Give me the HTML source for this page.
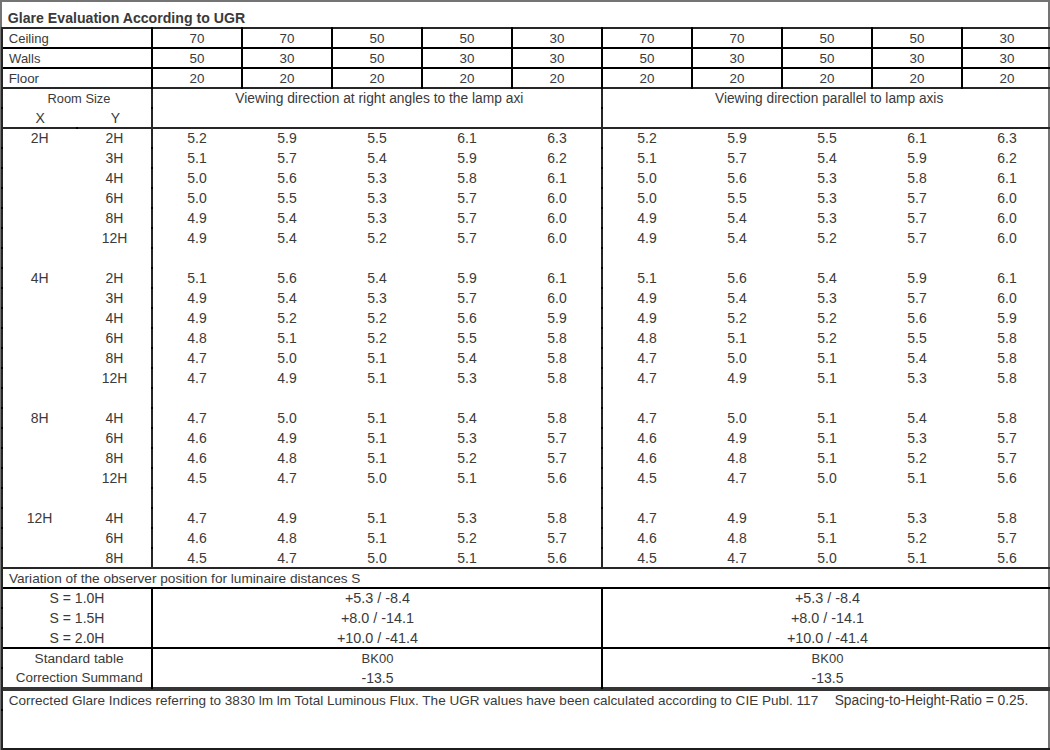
<!DOCTYPE html>
<html><head><meta charset="utf-8"><title>Glare Evaluation According to UGR</title>
<style>
html,body{margin:0;padding:0;background:#fff;}
body{width:1050px;height:750px;position:relative;overflow:hidden;font-family:"Liberation Sans",sans-serif;color:#3a3a3a;}
i{position:absolute;display:block;}
b{position:absolute;font-weight:normal;white-space:pre;line-height:20px;}
b.c{width:300px;text-align:center;}
b.t{font-weight:bold;}
</style></head><body>
<i style="left:0;top:0;width:1050px;height:2px;background:#747474"></i>
<i style="left:0;top:0;width:2px;height:750px;background:#747474"></i>
<i style="left:1048px;top:0;width:2px;height:750px;background:#747474"></i>
<i style="left:1px;top:27px;width:1049px;height:2px;background:#262626"></i>
<i style="left:1px;top:47px;width:1049px;height:2px;background:#000"></i>
<i style="left:1px;top:67px;width:1049px;height:2px;background:#000"></i>
<i style="left:1px;top:87px;width:1049px;height:2px;background:#262626"></i>
<i style="left:1px;top:127px;width:1049px;height:2px;background:#262626"></i>
<i style="left:1px;top:567px;width:1049px;height:2px;background:#262626"></i>
<i style="left:1px;top:587px;width:1049px;height:2px;background:#000"></i>
<i style="left:1px;top:647px;width:1049px;height:2px;background:#000"></i>
<i style="left:1px;top:687px;width:1049px;height:4px;background:#353535"></i>
<i style="left:1px;top:748px;width:1049px;height:2px;background:#1c1c1c"></i>
<i style="left:1px;top:27px;width:2px;height:723px;background:#262626"></i>
<i style="left:151px;top:89px;width:2px;height:479px;background:#262626"></i>
<i style="left:151px;top:27px;width:2px;height:62px;background:#000"></i>
<i style="left:151px;top:587px;width:2px;height:102px;background:#000"></i>
<i style="left:601px;top:89px;width:2px;height:479px;background:#262626"></i>
<i style="left:601px;top:27px;width:2px;height:62px;background:#000"></i>
<i style="left:601px;top:587px;width:2px;height:102px;background:#000"></i>
<i style="left:241px;top:27px;width:2px;height:62px;background:#000"></i>
<i style="left:331px;top:27px;width:2px;height:62px;background:#000"></i>
<i style="left:421px;top:27px;width:2px;height:62px;background:#000"></i>
<i style="left:511px;top:27px;width:2px;height:62px;background:#000"></i>
<i style="left:691px;top:27px;width:2px;height:62px;background:#000"></i>
<i style="left:781px;top:27px;width:2px;height:62px;background:#000"></i>
<i style="left:871px;top:27px;width:2px;height:62px;background:#000"></i>
<i style="left:961px;top:27px;width:2px;height:62px;background:#000"></i>
<i style="left:1px;top:107px;width:2px;height:2px;background:#000"></i>
<i style="left:151px;top:107px;width:2px;height:2px;background:#000"></i>
<i style="left:601px;top:107px;width:2px;height:2px;background:#000"></i>
<i style="left:1px;top:147px;width:2px;height:2px;background:#000"></i>
<i style="left:151px;top:147px;width:2px;height:2px;background:#000"></i>
<i style="left:601px;top:147px;width:2px;height:2px;background:#000"></i>
<i style="left:1px;top:167px;width:2px;height:2px;background:#000"></i>
<i style="left:151px;top:167px;width:2px;height:2px;background:#000"></i>
<i style="left:601px;top:167px;width:2px;height:2px;background:#000"></i>
<i style="left:1px;top:187px;width:2px;height:2px;background:#000"></i>
<i style="left:151px;top:187px;width:2px;height:2px;background:#000"></i>
<i style="left:601px;top:187px;width:2px;height:2px;background:#000"></i>
<i style="left:1px;top:207px;width:2px;height:2px;background:#000"></i>
<i style="left:151px;top:207px;width:2px;height:2px;background:#000"></i>
<i style="left:601px;top:207px;width:2px;height:2px;background:#000"></i>
<i style="left:1px;top:227px;width:2px;height:2px;background:#000"></i>
<i style="left:151px;top:227px;width:2px;height:2px;background:#000"></i>
<i style="left:601px;top:227px;width:2px;height:2px;background:#000"></i>
<i style="left:1px;top:247px;width:2px;height:2px;background:#000"></i>
<i style="left:151px;top:247px;width:2px;height:2px;background:#000"></i>
<i style="left:601px;top:247px;width:2px;height:2px;background:#000"></i>
<i style="left:1px;top:267px;width:2px;height:2px;background:#000"></i>
<i style="left:151px;top:267px;width:2px;height:2px;background:#000"></i>
<i style="left:601px;top:267px;width:2px;height:2px;background:#000"></i>
<i style="left:1px;top:287px;width:2px;height:2px;background:#000"></i>
<i style="left:151px;top:287px;width:2px;height:2px;background:#000"></i>
<i style="left:601px;top:287px;width:2px;height:2px;background:#000"></i>
<i style="left:1px;top:307px;width:2px;height:2px;background:#000"></i>
<i style="left:151px;top:307px;width:2px;height:2px;background:#000"></i>
<i style="left:601px;top:307px;width:2px;height:2px;background:#000"></i>
<i style="left:1px;top:327px;width:2px;height:2px;background:#000"></i>
<i style="left:151px;top:327px;width:2px;height:2px;background:#000"></i>
<i style="left:601px;top:327px;width:2px;height:2px;background:#000"></i>
<i style="left:1px;top:347px;width:2px;height:2px;background:#000"></i>
<i style="left:151px;top:347px;width:2px;height:2px;background:#000"></i>
<i style="left:601px;top:347px;width:2px;height:2px;background:#000"></i>
<i style="left:1px;top:367px;width:2px;height:2px;background:#000"></i>
<i style="left:151px;top:367px;width:2px;height:2px;background:#000"></i>
<i style="left:601px;top:367px;width:2px;height:2px;background:#000"></i>
<i style="left:1px;top:387px;width:2px;height:2px;background:#000"></i>
<i style="left:151px;top:387px;width:2px;height:2px;background:#000"></i>
<i style="left:601px;top:387px;width:2px;height:2px;background:#000"></i>
<i style="left:1px;top:407px;width:2px;height:2px;background:#000"></i>
<i style="left:151px;top:407px;width:2px;height:2px;background:#000"></i>
<i style="left:601px;top:407px;width:2px;height:2px;background:#000"></i>
<i style="left:1px;top:427px;width:2px;height:2px;background:#000"></i>
<i style="left:151px;top:427px;width:2px;height:2px;background:#000"></i>
<i style="left:601px;top:427px;width:2px;height:2px;background:#000"></i>
<i style="left:1px;top:447px;width:2px;height:2px;background:#000"></i>
<i style="left:151px;top:447px;width:2px;height:2px;background:#000"></i>
<i style="left:601px;top:447px;width:2px;height:2px;background:#000"></i>
<i style="left:1px;top:467px;width:2px;height:2px;background:#000"></i>
<i style="left:151px;top:467px;width:2px;height:2px;background:#000"></i>
<i style="left:601px;top:467px;width:2px;height:2px;background:#000"></i>
<i style="left:1px;top:487px;width:2px;height:2px;background:#000"></i>
<i style="left:151px;top:487px;width:2px;height:2px;background:#000"></i>
<i style="left:601px;top:487px;width:2px;height:2px;background:#000"></i>
<i style="left:1px;top:507px;width:2px;height:2px;background:#000"></i>
<i style="left:151px;top:507px;width:2px;height:2px;background:#000"></i>
<i style="left:601px;top:507px;width:2px;height:2px;background:#000"></i>
<i style="left:1px;top:527px;width:2px;height:2px;background:#000"></i>
<i style="left:151px;top:527px;width:2px;height:2px;background:#000"></i>
<i style="left:601px;top:527px;width:2px;height:2px;background:#000"></i>
<i style="left:1px;top:547px;width:2px;height:2px;background:#000"></i>
<i style="left:151px;top:547px;width:2px;height:2px;background:#000"></i>
<i style="left:601px;top:547px;width:2px;height:2px;background:#000"></i>
<i style="left:1px;top:607px;width:2px;height:2px;background:#000"></i>
<i style="left:1px;top:627px;width:2px;height:2px;background:#000"></i>
<i style="left:1px;top:667px;width:2px;height:2px;background:#000"></i>
<i style="left:1px;top:709px;width:2px;height:2px;background:#000"></i>
<i style="left:76px;top:127px;width:2px;height:2px;background:#000"></i>
<b class="t" style="left:7.83px;top:8px;font-size:14.14px">Glare Evaluation According to UGR</b>
<b style="left:8.75px;top:29px;font-size:13.08px">Ceiling</b>
<b class="c" style="left:47px;top:29px;font-size:13.4px">70</b>
<b class="c" style="left:137px;top:29px;font-size:13.4px">70</b>
<b class="c" style="left:227px;top:29px;font-size:13.4px">50</b>
<b class="c" style="left:317px;top:29px;font-size:13.4px">50</b>
<b class="c" style="left:407px;top:29px;font-size:13.4px">30</b>
<b class="c" style="left:497px;top:29px;font-size:13.4px">70</b>
<b class="c" style="left:587px;top:29px;font-size:13.4px">70</b>
<b class="c" style="left:677px;top:29px;font-size:13.4px">50</b>
<b class="c" style="left:767px;top:29px;font-size:13.4px">50</b>
<b class="c" style="left:857px;top:29px;font-size:13.4px">30</b>
<b style="left:9.10px;top:49px;font-size:13.0px">Walls</b>
<b class="c" style="left:47px;top:49px;font-size:13.4px">50</b>
<b class="c" style="left:137px;top:49px;font-size:13.4px">30</b>
<b class="c" style="left:227px;top:49px;font-size:13.4px">50</b>
<b class="c" style="left:317px;top:49px;font-size:13.4px">30</b>
<b class="c" style="left:407px;top:49px;font-size:13.4px">30</b>
<b class="c" style="left:497px;top:49px;font-size:13.4px">50</b>
<b class="c" style="left:587px;top:49px;font-size:13.4px">30</b>
<b class="c" style="left:677px;top:49px;font-size:13.4px">50</b>
<b class="c" style="left:767px;top:49px;font-size:13.4px">30</b>
<b class="c" style="left:857px;top:49px;font-size:13.4px">30</b>
<b style="left:8.63px;top:69px;font-size:13.36px">Floor</b>
<b class="c" style="left:47px;top:69px;font-size:13.4px">20</b>
<b class="c" style="left:137px;top:69px;font-size:13.4px">20</b>
<b class="c" style="left:227px;top:69px;font-size:13.4px">20</b>
<b class="c" style="left:317px;top:69px;font-size:13.4px">20</b>
<b class="c" style="left:407px;top:69px;font-size:13.4px">20</b>
<b class="c" style="left:497px;top:69px;font-size:13.4px">20</b>
<b class="c" style="left:587px;top:69px;font-size:13.4px">20</b>
<b class="c" style="left:677px;top:69px;font-size:13.4px">20</b>
<b class="c" style="left:767px;top:69px;font-size:13.4px">20</b>
<b class="c" style="left:857px;top:69px;font-size:13.4px">20</b>
<b style="left:47.47px;top:89px;font-size:12.88px">Room Size</b>
<b class="c" style="left:-109.9px;top:108px;font-size:14px">X</b>
<b class="c" style="left:-34.5px;top:108px;font-size:14px">Y</b>
<b style="left:235.30px;top:89px;font-size:13.8px">Viewing direction at right angles to the lamp axi</b>
<b style="left:715.00px;top:89px;font-size:13.71px">Viewing direction parallel to lamp axis</b>
<b class="c" style="left:-110.4px;top:128px;font-size:14px">2H</b>
<b class="c" style="left:-35.5px;top:128px;font-size:14px">2H</b>
<b class="c" style="left:47px;top:128px;font-size:14px">5.2</b>
<b class="c" style="left:137px;top:128px;font-size:14px">5.9</b>
<b class="c" style="left:227px;top:128px;font-size:14px">5.5</b>
<b class="c" style="left:317px;top:128px;font-size:14px">6.1</b>
<b class="c" style="left:407px;top:128px;font-size:14px">6.3</b>
<b class="c" style="left:497px;top:128px;font-size:14px">5.2</b>
<b class="c" style="left:587px;top:128px;font-size:14px">5.9</b>
<b class="c" style="left:677px;top:128px;font-size:14px">5.5</b>
<b class="c" style="left:767px;top:128px;font-size:14px">6.1</b>
<b class="c" style="left:857px;top:128px;font-size:14px">6.3</b>
<b class="c" style="left:-35.5px;top:148px;font-size:14px">3H</b>
<b class="c" style="left:47px;top:148px;font-size:14px">5.1</b>
<b class="c" style="left:137px;top:148px;font-size:14px">5.7</b>
<b class="c" style="left:227px;top:148px;font-size:14px">5.4</b>
<b class="c" style="left:317px;top:148px;font-size:14px">5.9</b>
<b class="c" style="left:407px;top:148px;font-size:14px">6.2</b>
<b class="c" style="left:497px;top:148px;font-size:14px">5.1</b>
<b class="c" style="left:587px;top:148px;font-size:14px">5.7</b>
<b class="c" style="left:677px;top:148px;font-size:14px">5.4</b>
<b class="c" style="left:767px;top:148px;font-size:14px">5.9</b>
<b class="c" style="left:857px;top:148px;font-size:14px">6.2</b>
<b class="c" style="left:-35.5px;top:168px;font-size:14px">4H</b>
<b class="c" style="left:47px;top:168px;font-size:14px">5.0</b>
<b class="c" style="left:137px;top:168px;font-size:14px">5.6</b>
<b class="c" style="left:227px;top:168px;font-size:14px">5.3</b>
<b class="c" style="left:317px;top:168px;font-size:14px">5.8</b>
<b class="c" style="left:407px;top:168px;font-size:14px">6.1</b>
<b class="c" style="left:497px;top:168px;font-size:14px">5.0</b>
<b class="c" style="left:587px;top:168px;font-size:14px">5.6</b>
<b class="c" style="left:677px;top:168px;font-size:14px">5.3</b>
<b class="c" style="left:767px;top:168px;font-size:14px">5.8</b>
<b class="c" style="left:857px;top:168px;font-size:14px">6.1</b>
<b class="c" style="left:-35.5px;top:188px;font-size:14px">6H</b>
<b class="c" style="left:47px;top:188px;font-size:14px">5.0</b>
<b class="c" style="left:137px;top:188px;font-size:14px">5.5</b>
<b class="c" style="left:227px;top:188px;font-size:14px">5.3</b>
<b class="c" style="left:317px;top:188px;font-size:14px">5.7</b>
<b class="c" style="left:407px;top:188px;font-size:14px">6.0</b>
<b class="c" style="left:497px;top:188px;font-size:14px">5.0</b>
<b class="c" style="left:587px;top:188px;font-size:14px">5.5</b>
<b class="c" style="left:677px;top:188px;font-size:14px">5.3</b>
<b class="c" style="left:767px;top:188px;font-size:14px">5.7</b>
<b class="c" style="left:857px;top:188px;font-size:14px">6.0</b>
<b class="c" style="left:-35.5px;top:208px;font-size:14px">8H</b>
<b class="c" style="left:47px;top:208px;font-size:14px">4.9</b>
<b class="c" style="left:137px;top:208px;font-size:14px">5.4</b>
<b class="c" style="left:227px;top:208px;font-size:14px">5.3</b>
<b class="c" style="left:317px;top:208px;font-size:14px">5.7</b>
<b class="c" style="left:407px;top:208px;font-size:14px">6.0</b>
<b class="c" style="left:497px;top:208px;font-size:14px">4.9</b>
<b class="c" style="left:587px;top:208px;font-size:14px">5.4</b>
<b class="c" style="left:677px;top:208px;font-size:14px">5.3</b>
<b class="c" style="left:767px;top:208px;font-size:14px">5.7</b>
<b class="c" style="left:857px;top:208px;font-size:14px">6.0</b>
<b class="c" style="left:-35.5px;top:228px;font-size:14px">12H</b>
<b class="c" style="left:47px;top:228px;font-size:14px">4.9</b>
<b class="c" style="left:137px;top:228px;font-size:14px">5.4</b>
<b class="c" style="left:227px;top:228px;font-size:14px">5.2</b>
<b class="c" style="left:317px;top:228px;font-size:14px">5.7</b>
<b class="c" style="left:407px;top:228px;font-size:14px">6.0</b>
<b class="c" style="left:497px;top:228px;font-size:14px">4.9</b>
<b class="c" style="left:587px;top:228px;font-size:14px">5.4</b>
<b class="c" style="left:677px;top:228px;font-size:14px">5.2</b>
<b class="c" style="left:767px;top:228px;font-size:14px">5.7</b>
<b class="c" style="left:857px;top:228px;font-size:14px">6.0</b>
<b class="c" style="left:-110.4px;top:268px;font-size:14px">4H</b>
<b class="c" style="left:-35.5px;top:268px;font-size:14px">2H</b>
<b class="c" style="left:47px;top:268px;font-size:14px">5.1</b>
<b class="c" style="left:137px;top:268px;font-size:14px">5.6</b>
<b class="c" style="left:227px;top:268px;font-size:14px">5.4</b>
<b class="c" style="left:317px;top:268px;font-size:14px">5.9</b>
<b class="c" style="left:407px;top:268px;font-size:14px">6.1</b>
<b class="c" style="left:497px;top:268px;font-size:14px">5.1</b>
<b class="c" style="left:587px;top:268px;font-size:14px">5.6</b>
<b class="c" style="left:677px;top:268px;font-size:14px">5.4</b>
<b class="c" style="left:767px;top:268px;font-size:14px">5.9</b>
<b class="c" style="left:857px;top:268px;font-size:14px">6.1</b>
<b class="c" style="left:-35.5px;top:288px;font-size:14px">3H</b>
<b class="c" style="left:47px;top:288px;font-size:14px">4.9</b>
<b class="c" style="left:137px;top:288px;font-size:14px">5.4</b>
<b class="c" style="left:227px;top:288px;font-size:14px">5.3</b>
<b class="c" style="left:317px;top:288px;font-size:14px">5.7</b>
<b class="c" style="left:407px;top:288px;font-size:14px">6.0</b>
<b class="c" style="left:497px;top:288px;font-size:14px">4.9</b>
<b class="c" style="left:587px;top:288px;font-size:14px">5.4</b>
<b class="c" style="left:677px;top:288px;font-size:14px">5.3</b>
<b class="c" style="left:767px;top:288px;font-size:14px">5.7</b>
<b class="c" style="left:857px;top:288px;font-size:14px">6.0</b>
<b class="c" style="left:-35.5px;top:308px;font-size:14px">4H</b>
<b class="c" style="left:47px;top:308px;font-size:14px">4.9</b>
<b class="c" style="left:137px;top:308px;font-size:14px">5.2</b>
<b class="c" style="left:227px;top:308px;font-size:14px">5.2</b>
<b class="c" style="left:317px;top:308px;font-size:14px">5.6</b>
<b class="c" style="left:407px;top:308px;font-size:14px">5.9</b>
<b class="c" style="left:497px;top:308px;font-size:14px">4.9</b>
<b class="c" style="left:587px;top:308px;font-size:14px">5.2</b>
<b class="c" style="left:677px;top:308px;font-size:14px">5.2</b>
<b class="c" style="left:767px;top:308px;font-size:14px">5.6</b>
<b class="c" style="left:857px;top:308px;font-size:14px">5.9</b>
<b class="c" style="left:-35.5px;top:328px;font-size:14px">6H</b>
<b class="c" style="left:47px;top:328px;font-size:14px">4.8</b>
<b class="c" style="left:137px;top:328px;font-size:14px">5.1</b>
<b class="c" style="left:227px;top:328px;font-size:14px">5.2</b>
<b class="c" style="left:317px;top:328px;font-size:14px">5.5</b>
<b class="c" style="left:407px;top:328px;font-size:14px">5.8</b>
<b class="c" style="left:497px;top:328px;font-size:14px">4.8</b>
<b class="c" style="left:587px;top:328px;font-size:14px">5.1</b>
<b class="c" style="left:677px;top:328px;font-size:14px">5.2</b>
<b class="c" style="left:767px;top:328px;font-size:14px">5.5</b>
<b class="c" style="left:857px;top:328px;font-size:14px">5.8</b>
<b class="c" style="left:-35.5px;top:348px;font-size:14px">8H</b>
<b class="c" style="left:47px;top:348px;font-size:14px">4.7</b>
<b class="c" style="left:137px;top:348px;font-size:14px">5.0</b>
<b class="c" style="left:227px;top:348px;font-size:14px">5.1</b>
<b class="c" style="left:317px;top:348px;font-size:14px">5.4</b>
<b class="c" style="left:407px;top:348px;font-size:14px">5.8</b>
<b class="c" style="left:497px;top:348px;font-size:14px">4.7</b>
<b class="c" style="left:587px;top:348px;font-size:14px">5.0</b>
<b class="c" style="left:677px;top:348px;font-size:14px">5.1</b>
<b class="c" style="left:767px;top:348px;font-size:14px">5.4</b>
<b class="c" style="left:857px;top:348px;font-size:14px">5.8</b>
<b class="c" style="left:-35.5px;top:368px;font-size:14px">12H</b>
<b class="c" style="left:47px;top:368px;font-size:14px">4.7</b>
<b class="c" style="left:137px;top:368px;font-size:14px">4.9</b>
<b class="c" style="left:227px;top:368px;font-size:14px">5.1</b>
<b class="c" style="left:317px;top:368px;font-size:14px">5.3</b>
<b class="c" style="left:407px;top:368px;font-size:14px">5.8</b>
<b class="c" style="left:497px;top:368px;font-size:14px">4.7</b>
<b class="c" style="left:587px;top:368px;font-size:14px">4.9</b>
<b class="c" style="left:677px;top:368px;font-size:14px">5.1</b>
<b class="c" style="left:767px;top:368px;font-size:14px">5.3</b>
<b class="c" style="left:857px;top:368px;font-size:14px">5.8</b>
<b class="c" style="left:-110.4px;top:408px;font-size:14px">8H</b>
<b class="c" style="left:-35.5px;top:408px;font-size:14px">4H</b>
<b class="c" style="left:47px;top:408px;font-size:14px">4.7</b>
<b class="c" style="left:137px;top:408px;font-size:14px">5.0</b>
<b class="c" style="left:227px;top:408px;font-size:14px">5.1</b>
<b class="c" style="left:317px;top:408px;font-size:14px">5.4</b>
<b class="c" style="left:407px;top:408px;font-size:14px">5.8</b>
<b class="c" style="left:497px;top:408px;font-size:14px">4.7</b>
<b class="c" style="left:587px;top:408px;font-size:14px">5.0</b>
<b class="c" style="left:677px;top:408px;font-size:14px">5.1</b>
<b class="c" style="left:767px;top:408px;font-size:14px">5.4</b>
<b class="c" style="left:857px;top:408px;font-size:14px">5.8</b>
<b class="c" style="left:-35.5px;top:428px;font-size:14px">6H</b>
<b class="c" style="left:47px;top:428px;font-size:14px">4.6</b>
<b class="c" style="left:137px;top:428px;font-size:14px">4.9</b>
<b class="c" style="left:227px;top:428px;font-size:14px">5.1</b>
<b class="c" style="left:317px;top:428px;font-size:14px">5.3</b>
<b class="c" style="left:407px;top:428px;font-size:14px">5.7</b>
<b class="c" style="left:497px;top:428px;font-size:14px">4.6</b>
<b class="c" style="left:587px;top:428px;font-size:14px">4.9</b>
<b class="c" style="left:677px;top:428px;font-size:14px">5.1</b>
<b class="c" style="left:767px;top:428px;font-size:14px">5.3</b>
<b class="c" style="left:857px;top:428px;font-size:14px">5.7</b>
<b class="c" style="left:-35.5px;top:448px;font-size:14px">8H</b>
<b class="c" style="left:47px;top:448px;font-size:14px">4.6</b>
<b class="c" style="left:137px;top:448px;font-size:14px">4.8</b>
<b class="c" style="left:227px;top:448px;font-size:14px">5.1</b>
<b class="c" style="left:317px;top:448px;font-size:14px">5.2</b>
<b class="c" style="left:407px;top:448px;font-size:14px">5.7</b>
<b class="c" style="left:497px;top:448px;font-size:14px">4.6</b>
<b class="c" style="left:587px;top:448px;font-size:14px">4.8</b>
<b class="c" style="left:677px;top:448px;font-size:14px">5.1</b>
<b class="c" style="left:767px;top:448px;font-size:14px">5.2</b>
<b class="c" style="left:857px;top:448px;font-size:14px">5.7</b>
<b class="c" style="left:-35.5px;top:468px;font-size:14px">12H</b>
<b class="c" style="left:47px;top:468px;font-size:14px">4.5</b>
<b class="c" style="left:137px;top:468px;font-size:14px">4.7</b>
<b class="c" style="left:227px;top:468px;font-size:14px">5.0</b>
<b class="c" style="left:317px;top:468px;font-size:14px">5.1</b>
<b class="c" style="left:407px;top:468px;font-size:14px">5.6</b>
<b class="c" style="left:497px;top:468px;font-size:14px">4.5</b>
<b class="c" style="left:587px;top:468px;font-size:14px">4.7</b>
<b class="c" style="left:677px;top:468px;font-size:14px">5.0</b>
<b class="c" style="left:767px;top:468px;font-size:14px">5.1</b>
<b class="c" style="left:857px;top:468px;font-size:14px">5.6</b>
<b class="c" style="left:-110.4px;top:508px;font-size:14px">12H</b>
<b class="c" style="left:-35.5px;top:508px;font-size:14px">4H</b>
<b class="c" style="left:47px;top:508px;font-size:14px">4.7</b>
<b class="c" style="left:137px;top:508px;font-size:14px">4.9</b>
<b class="c" style="left:227px;top:508px;font-size:14px">5.1</b>
<b class="c" style="left:317px;top:508px;font-size:14px">5.3</b>
<b class="c" style="left:407px;top:508px;font-size:14px">5.8</b>
<b class="c" style="left:497px;top:508px;font-size:14px">4.7</b>
<b class="c" style="left:587px;top:508px;font-size:14px">4.9</b>
<b class="c" style="left:677px;top:508px;font-size:14px">5.1</b>
<b class="c" style="left:767px;top:508px;font-size:14px">5.3</b>
<b class="c" style="left:857px;top:508px;font-size:14px">5.8</b>
<b class="c" style="left:-35.5px;top:528px;font-size:14px">6H</b>
<b class="c" style="left:47px;top:528px;font-size:14px">4.6</b>
<b class="c" style="left:137px;top:528px;font-size:14px">4.8</b>
<b class="c" style="left:227px;top:528px;font-size:14px">5.1</b>
<b class="c" style="left:317px;top:528px;font-size:14px">5.2</b>
<b class="c" style="left:407px;top:528px;font-size:14px">5.7</b>
<b class="c" style="left:497px;top:528px;font-size:14px">4.6</b>
<b class="c" style="left:587px;top:528px;font-size:14px">4.8</b>
<b class="c" style="left:677px;top:528px;font-size:14px">5.1</b>
<b class="c" style="left:767px;top:528px;font-size:14px">5.2</b>
<b class="c" style="left:857px;top:528px;font-size:14px">5.7</b>
<b class="c" style="left:-35.5px;top:548px;font-size:14px">8H</b>
<b class="c" style="left:47px;top:548px;font-size:14px">4.5</b>
<b class="c" style="left:137px;top:548px;font-size:14px">4.7</b>
<b class="c" style="left:227px;top:548px;font-size:14px">5.0</b>
<b class="c" style="left:317px;top:548px;font-size:14px">5.1</b>
<b class="c" style="left:407px;top:548px;font-size:14px">5.6</b>
<b class="c" style="left:497px;top:548px;font-size:14px">4.5</b>
<b class="c" style="left:587px;top:548px;font-size:14px">4.7</b>
<b class="c" style="left:677px;top:548px;font-size:14px">5.0</b>
<b class="c" style="left:767px;top:548px;font-size:14px">5.1</b>
<b class="c" style="left:857px;top:548px;font-size:14px">5.6</b>
<b style="left:8.90px;top:569px;font-size:13.65px">Variation of the observer position for luminaire distances S</b>
<b class="c" style="left:-73px;top:588px;font-size:14px">S = 1.0H</b>
<b class="c" style="left:227.5px;top:588px;font-size:14.4px">+5.3 / -8.4</b>
<b class="c" style="left:677.5px;top:588px;font-size:14.4px">+5.3 / -8.4</b>
<b class="c" style="left:-73px;top:608px;font-size:14px">S = 1.5H</b>
<b class="c" style="left:227.5px;top:608px;font-size:14.4px">+8.0 / -14.1</b>
<b class="c" style="left:677.5px;top:608px;font-size:14.4px">+8.0 / -14.1</b>
<b class="c" style="left:-73px;top:628px;font-size:14px">S = 2.0H</b>
<b class="c" style="left:227.5px;top:628px;font-size:14.4px">+10.0 / -41.4</b>
<b class="c" style="left:677.5px;top:628px;font-size:14.4px">+10.0 / -41.4</b>
<b style="left:34.55px;top:649px;font-size:13.69px">Standard table</b>
<b class="c" style="left:227.5px;top:649px;font-size:13px">BK00</b>
<b class="c" style="left:677.5px;top:649px;font-size:13px">BK00</b>
<b style="left:15.73px;top:668px;font-size:13.44px">Correction Summand</b>
<b class="c" style="left:227.5px;top:668px;font-size:14px">-13.5</b>
<b class="c" style="left:677.5px;top:668px;font-size:14px">-13.5</b>
<b style="left:8.72px;top:691px;font-size:13.55px">Corrected Glare Indices referring to 3830 lm lm Total Luminous Flux. The UGR values have been calculated according to CIE Publ. 117</b>
<b style="left:834.65px;top:690px;font-size:13.81px">Spacing-to-Height-Ratio = 0.25.</b>
</body></html>
